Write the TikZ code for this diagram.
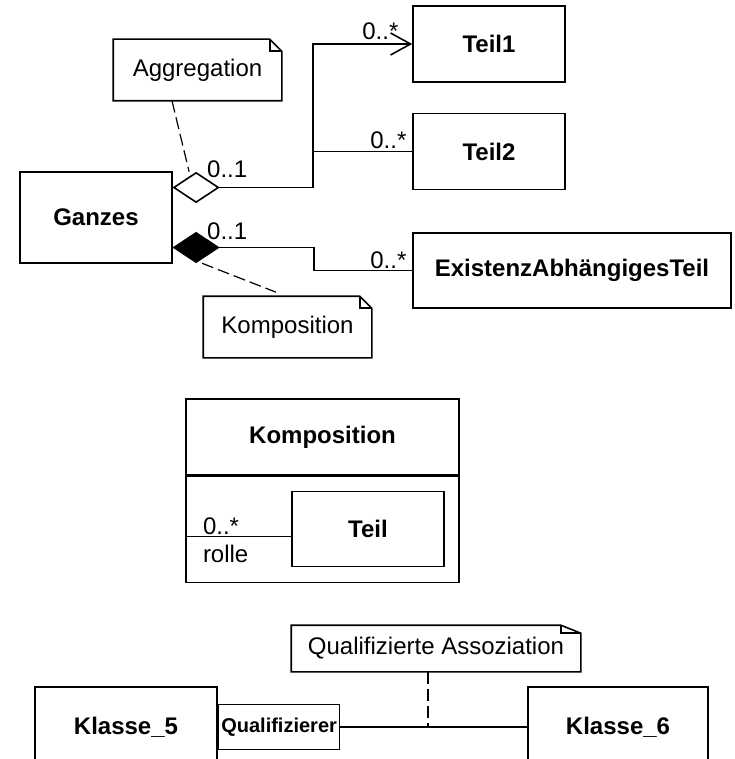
\documentclass[tikz,border=0pt]{standalone}
\usepackage{fontspec}
\setmainfont{Liberation Sans}
\usetikzlibrary{arrows.meta,positioning,shapes.geometric,calc}

% note outline with folded corner: name, fold width, fold height
\newcommand{\notizrand}[3]{%
\draw (#1.north west) -- ([xshift=-#2]#1.north east) -- ([yshift=-#3]#1.north east) -- (#1.south east) -- (#1.south west) -- cycle;
\draw ([xshift=-#2]#1.north east) |- ([yshift=-#3]#1.north east);}

\begin{document}
\begin{tikzpicture}[x=0.5pt,y=-0.5pt,line width=0.8pt,font=\fontsize{12}{14}\selectfont]

\tikzset{klasse/.style={draw,font=\fontsize{12}{14}\selectfont\bfseries,inner sep=0pt,minimum width=76pt,minimum height=38pt},
notiz/.style={inner sep=0pt,minimum width=83.5pt,minimum height=30pt},
raute/.style={draw,shape=diamond,inner sep=0pt,minimum width=22.5pt,minimum height=15pt,anchor=west},
mult/.style={inner sep=0pt},
anker/.style={line width=0.6pt,dash pattern=on 6pt off 2.5pt}}

\useasboundingbox (0,0) rectangle (734,759);
\clip (0,0) rectangle (734,759);

% Ganzes and its parts
\node[klasse,minimum height=45.5pt] (ganzes) at (96,217.5) {Ganzes};
\node[klasse] (teil1) at (489,44) {Teil1};
\node[klasse,below=15pt of teil1] (teil2) {Teil2};
\node[klasse,minimum width=159pt,minimum height=37.5pt] (exist) at (572,270.5) {ExistenzAbhängigesTeil};

\node[raute,fill=white] (aggr) at ([yshift=15pt]ganzes.east) {};
\node[raute,fill=black] (kompos) at ([yshift=-15pt]ganzes.east) {};

% Aggregation
\draw[-{Straight Barb[length=10pt,width=11pt]}] (aggr.east) -| ([xshift=-49.5pt]teil1.west) -- (teil1.west);
\coordinate (abzweig) at ([xshift=-49.5pt]teil2.west);
\draw (abzweig) -- (teil2.west);

% Komposition
\draw (kompos.east) -| ([xshift=-49pt]exist.west) -- (exist.west);

% multiplicities
\node[mult,anchor=base west] (mult1) at ([xshift=-6.5pt,yshift=5pt]aggr.east) {0..1};
\node[mult,anchor=base west] (mult2) at ([xshift=-6.5pt,yshift=4pt]kompos.east) {0..1};
\node[mult,anchor=base east] (mult3) at ([xshift=-6.5pt,yshift=2pt]teil1.west) {0..*};
\node[mult,anchor=base east] (mult4) at ([xshift=-2.5pt,yshift=1.5pt]teil2.west) {0..*};
\node[mult,anchor=base east] (mult5) at ([xshift=-2.5pt,yshift=1.25pt]exist.west) {0..*};

% notes
\node[notiz] (aggnotiz) at (197.5,70) {Aggregation};
\notizrand{aggnotiz}{6pt}{6pt}
\node[notiz] (komponotiz) at (287.5,327) {Komposition};
\notizrand{komponotiz}{6pt}{6pt}
\draw[anker] ([xshift=-12.75pt]aggnotiz.south) -- ([xshift=-3.5pt]aggr.north);
\draw[anker] ([xshift=3pt]kompos.south) -- ([xshift=-5.75pt,yshift=2pt]komponotiz.north);

% Komposition as class with part
\node[klasse,minimum width=136.5pt,minimum height=38pt] (kompokopf) at (322.5,437) {Komposition};
\node[klasse,minimum width=136.5pt,minimum height=53pt,below=0pt of kompokopf] (kompo) {};
\node[klasse,minimum height=37.5pt,anchor=south east] (teil) at ([xshift=-7.5pt,yshift=8pt]kompo.south east) {Teil};
\coordinate (rollepunkt) at ([yshift=-3.75pt]teil.west);
\draw (rollepunkt) -- (kompo.west |- rollepunkt)
  node[mult,pos=1,anchor=base west,xshift=8.5pt,yshift=1pt] (mult6) {0..*}
  node[mult,pos=1,anchor=north west,xshift=8.5pt,yshift=-4pt] (rolle) {rolle};

% qualified association
\node[klasse,minimum width=91pt,minimum height=40pt] (klasse5) at (126,727) {Klasse\_5};
\node[draw,font=\fontsize{10}{12}\selectfont\bfseries,inner sep=0pt,minimum width=60.5pt,minimum height=22.5pt,anchor=west] (quali) at (klasse5.east) {Qualifizierer};
\node[klasse,minimum width=90pt,minimum height=40pt] (klasse6) at (618,727) {Klasse\_6};
\draw (quali.east) -- (klasse6.west);

\node[notiz,minimum width=144pt,minimum height=22.5pt] (qnotiz) at (436,648.5) {Qualifizierte Assoziation};
\notizrand{qnotiz}{10pt}{4pt}
\coordinate (qfuss) at ([xshift=-4pt]qnotiz.south);
\draw[anker] (qfuss) -- (qfuss |- klasse6.west);

\end{tikzpicture}
\end{document}
